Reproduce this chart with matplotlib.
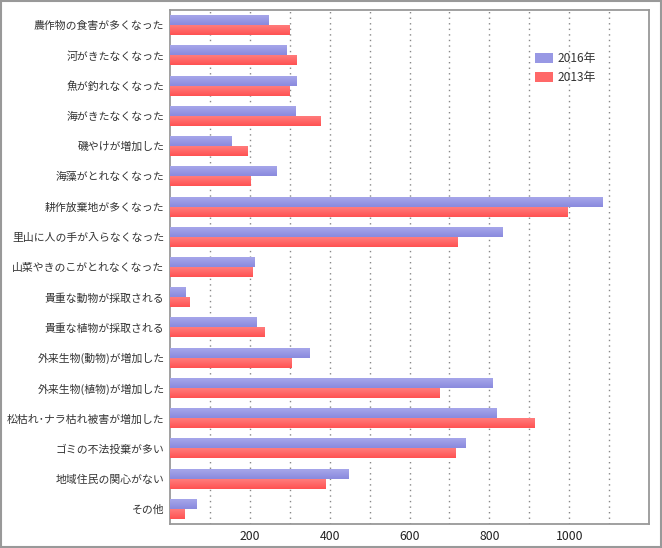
import numpy as np
import matplotlib
matplotlib.use('Agg')
import matplotlib.pyplot as plt
from matplotlib.colors import LinearSegmentedColormap

plt.rcParams['font.family'] = ['Noto Sans CJK JP', 'DejaVu Sans']

categories = [
    '農作物の食害が多くなった', '河がきたなくなった', '魚が釣れなくなった',
    '海がきたなくなった', '磯やけが増加した', '海藻がとれなくなった',
    '耕作放棄地が多くなった', '里山に人の手が入らなくなった',
    '山菜やきのこがとれなくなった', '貴重な動物が採取される',
    '貴重な植物が採取される', '外来生物(動物)が増加した',
    '外来生物(植物)が増加した', '松枯れ･ナラ枯れ被害が増加した',
    'ゴミの不法投棄が多い', '地域住民の関心がない', 'その他',
]
values_2016 = [246, 291, 316, 314, 155, 266, 1083, 834, 211, 39, 216, 349, 809, 819, 741, 446, 66]
values_2013 = [299, 318, 299, 376, 194, 201, 995, 719, 206, 49, 236, 304, 676, 914, 714, 389, 36]
series_names = ['2016年', '2013年']
xticks = [200, 400, 600, 800, 1000]

fig = plt.figure(figsize=(6.62, 5.48), dpi=100)
ax = fig.add_axes([170 / 662, 24 / 548, 479 / 662, 514 / 548])

n = len(categories)
y = np.arange(n)
h = 0.33

bars16 = ax.barh(y - h / 2, values_2016, height=h, color='#9898e4', label=series_names[0], zorder=2)
bars13 = ax.barh(y + h / 2, values_2013, height=h, color='#ff6868', label=series_names[1], zorder=2)

# vertical gradient inside each bar
grad = np.linspace(0, 1, 32).reshape(-1, 1)
cm16 = LinearSegmentedColormap.from_list('b', ['#a6a6ea', '#8a8ade'])
cm13 = LinearSegmentedColormap.from_list('r', ['#ff7c7c', '#ff5252'])
for bars, cm in [(bars16, cm16), (bars13, cm13)]:
    for b in bars:
        x0, y0 = b.get_x(), b.get_y()
        w, hh = b.get_width(), b.get_height()
        im = ax.imshow(grad, cmap=cm, aspect='auto', extent=(x0, x0 + w, y0 + hh, y0),
                       origin='upper', zorder=3, interpolation='bicubic')
        im.set_clip_path(b)

ax.set_xlim(0, 1200)
ax.set_ylim(n - 0.5, -0.5)
ax.set_yticks(y)
ax.set_yticklabels(categories, fontsize=7.8, color='#333333')
ax.set_xticks(xticks)
ax.set_xticklabels([str(t) for t in xticks], fontsize=8.8, color='#222222')
ax.set_xticks(np.arange(100, 1200, 100), minor=True)
ax.tick_params(axis='both', which='both', length=0)
ax.tick_params(axis='y', pad=4)
ax.tick_params(axis='x', pad=4)
ax.grid(axis='x', which='both', linestyle=(0, (1, 3)), color='#888888', linewidth=1, zorder=1)
ax.set_axisbelow(True)
for s in ax.spines.values():
    s.set_color('#999999')
    s.set_linewidth(1.3)

leg = ax.legend(loc='upper left', bbox_to_anchor=(0.762, 0.918), frameon=False,
                fontsize=8.6, handlelength=1.5, handleheight=0.9, handletextpad=0.4,
                labelspacing=0.5, borderaxespad=0, borderpad=0)
for t in leg.get_texts():
    t.set_color('#333333')

fig.patches.append(plt.Rectangle((0.001, 0.001), 0.998, 0.998, transform=fig.transFigure,
                                 fill=False, edgecolor='#999999', linewidth=1.5))

fig.savefig('out.png', dpi=100)
